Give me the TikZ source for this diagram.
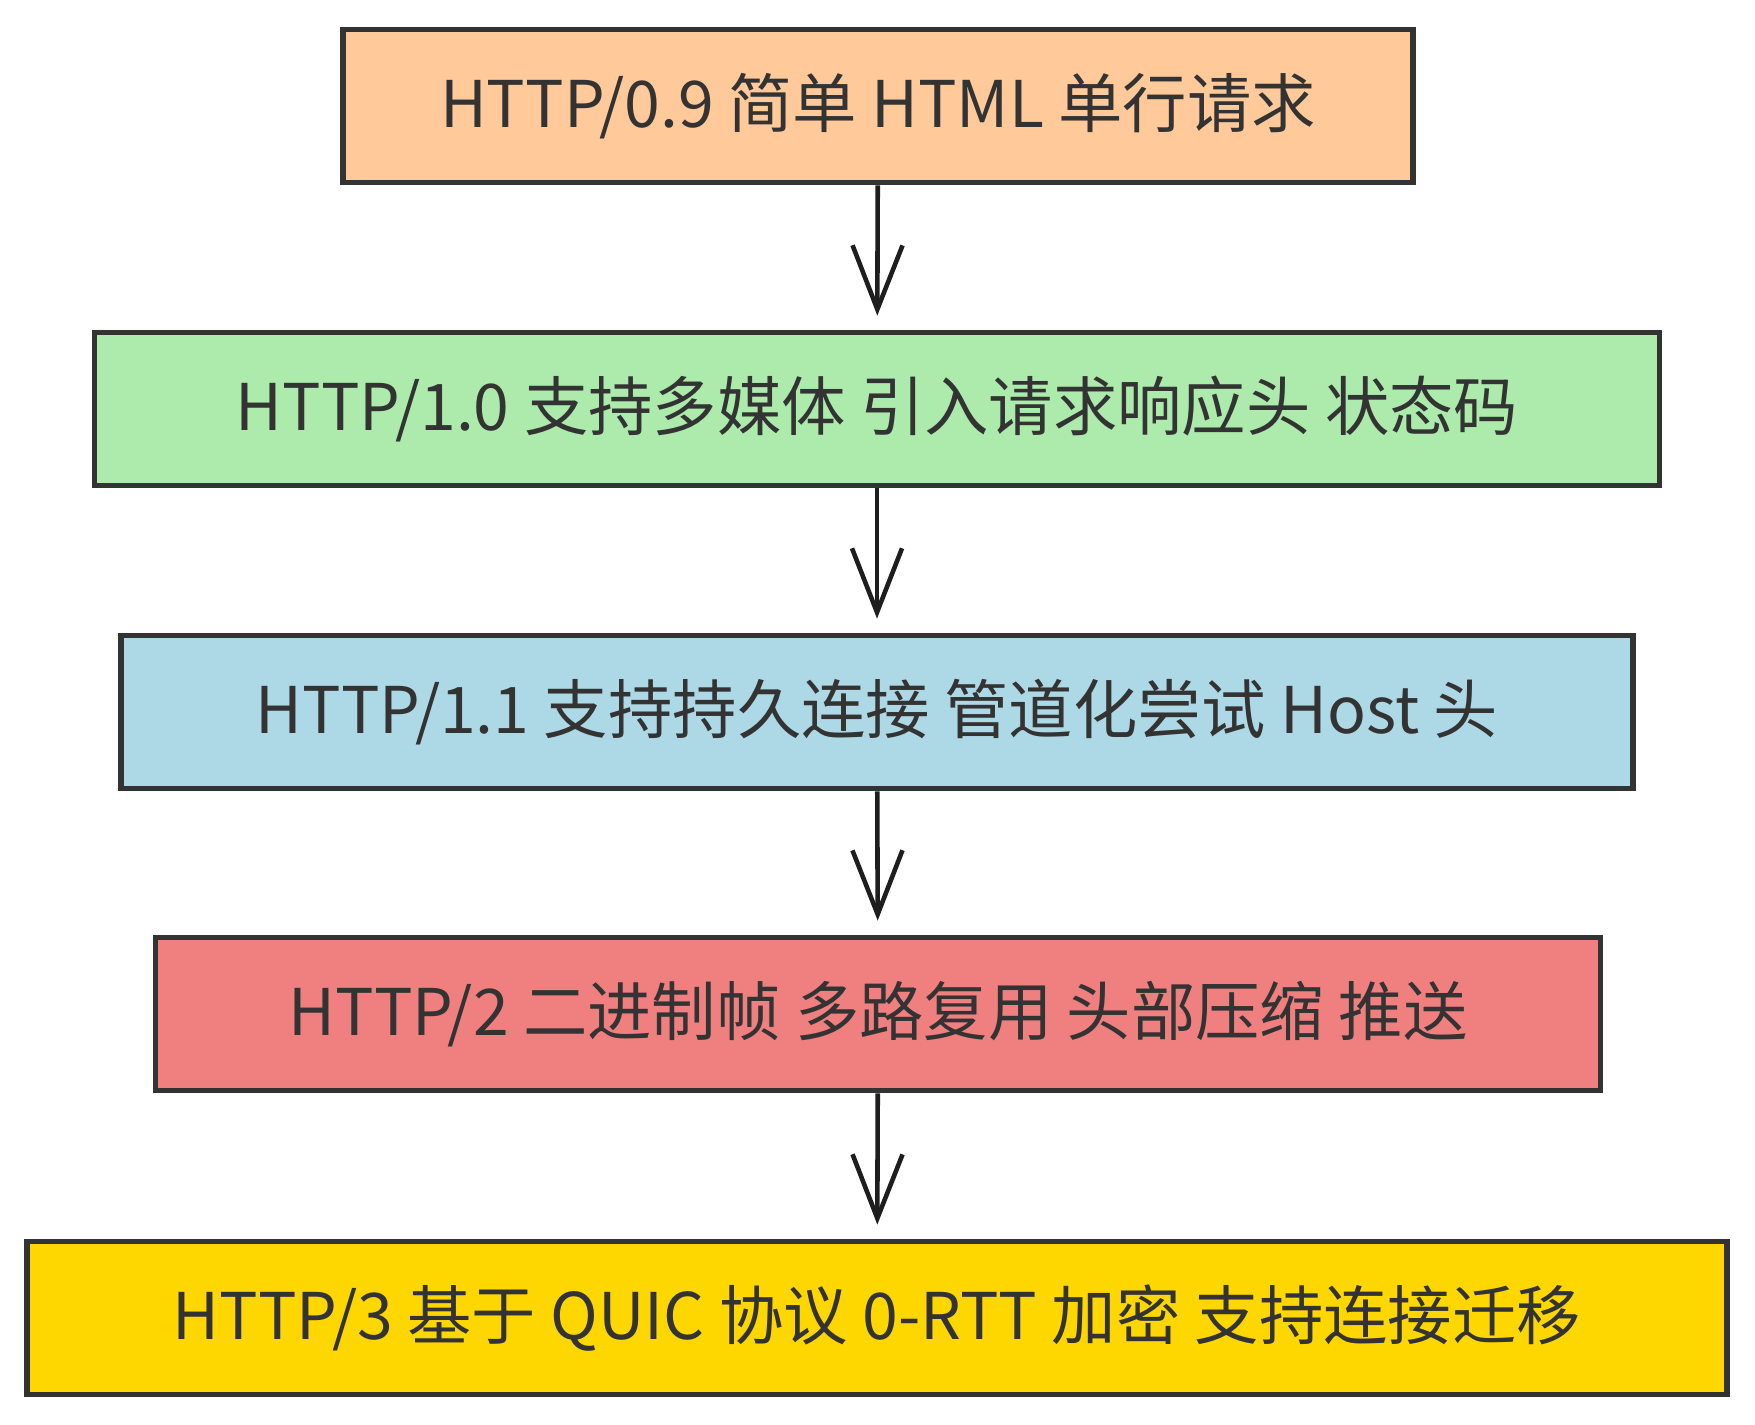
\documentclass[tikz,border=0pt]{standalone}
\usepackage{fontspec}
\setmainfont{Noto Sans CJK SC}
\usetikzlibrary{arrows.meta}

\definecolor{peach}{HTML}{FFC999}
\definecolor{mint}{HTML}{ACEBAC}
\definecolor{sky}{HTML}{ADD8E6}
\definecolor{coral}{HTML}{F08080}
\definecolor{gold}{HTML}{FFD700}
\definecolor{edge}{HTML}{333333}
\definecolor{ink}{HTML}{1E1E1E}

\begin{document}
\begin{tikzpicture}[x=0.01cm, y=-0.01cm,
  stage/.style={draw=edge, line width=1.6pt, minimum height=1.53cm, inner sep=0pt,
    text=edge, font=\fontsize{18.3}{21}\selectfont},
  flow/.style={draw=ink, line width=1.3pt, shorten >=1.4mm,
    -{Straight Barb[length=6.4mm, width=5mm, line width=1.3pt]}}]
\useasboundingbox (0,0) rectangle (1755,1425);

% Draw the version boxes, one under the other
\node[stage, fill=peach, minimum width=10.69cm] (h09) at (878, 106) {HTTP/0.9 简单 HTML 单行请求};
\node[stage, fill=mint, minimum width=15.64cm] (h10) at (877, 409) {HTTP/1.0 支持多媒体 引入请求响应头 状态码};
\node[stage, fill=sky, minimum width=15.11cm] (h11) at (877, 712) {HTTP/1.1 支持持久连接 管道化尝试 Host 头};
\node[stage, fill=coral, minimum width=14.44cm] (h2) at (878, 1014) {HTTP/2 二进制帧 多路复用 头部压缩 推送};
\node[stage, fill=gold, minimum width=16.99cm] (h3) at (877, 1318) {HTTP/3 基于 QUIC 协议 0-RTT 加密 支持连接迁移};

% Arrows between the versions
\draw[flow] (h09) -- (h10);
\draw[flow] (h10) -- (h11);
\draw[flow] (h11) -- (h2);
\draw[flow] (h2) -- (h3);
\end{tikzpicture}
\end{document}
